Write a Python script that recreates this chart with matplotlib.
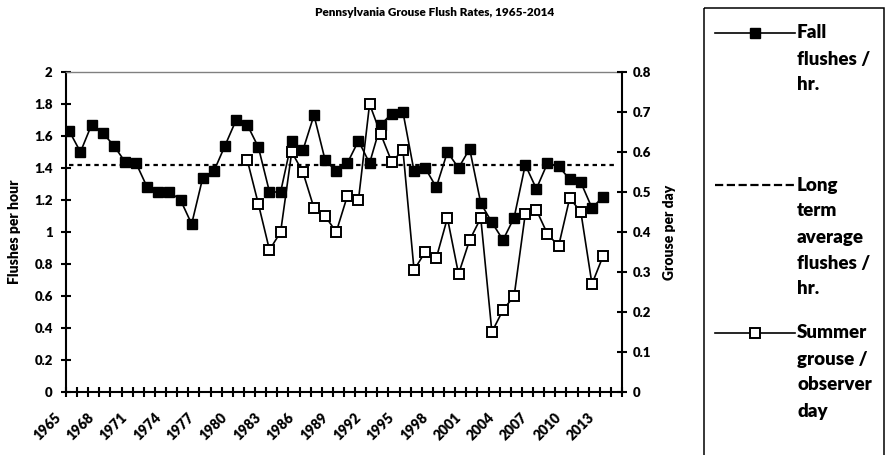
import matplotlib
matplotlib.use('Agg')
import matplotlib.pyplot as plt
import matplotlib.transforms as mtransforms
import numpy as np
from matplotlib.lines import Line2D
from matplotlib.patches import Rectangle
from matplotlib.ticker import FuncFormatter

plt.rcParams['font.family'] = ['Lato', 'DejaVu Sans']
plt.rcParams['font.weight'] = 'bold'

# ---------------- data ----------------
years = list(range(1965, 2015))          # 50 categories on the x axis
fall_start = 1965
fall_flushes = [1.63, 1.50, 1.67, 1.62, 1.54, 1.44, 1.43, 1.28, 1.25, 1.25,
                1.20, 1.05, 1.34, 1.38, 1.54, 1.70, 1.67, 1.53, 1.25, 1.25,
                1.57, 1.51, 1.73, 1.45, 1.38, 1.43, 1.57, 1.43, 1.67, 1.74,
                1.75, 1.38, 1.40, 1.28, 1.50, 1.40, 1.52, 1.18, 1.06, 0.95,
                1.09, 1.42, 1.27, 1.43, 1.41, 1.33, 1.31, 1.15, 1.22]
summer_start = 1981
summer_grouse = [0.58, 0.47, 0.355, 0.40, 0.60, 0.55, 0.46, 0.44, 0.40, 0.49,
                 0.48, 0.72, 0.645, 0.575, 0.605, 0.305, 0.35, 0.335, 0.435, 0.295,
                 0.38, 0.435, 0.15, 0.205, 0.24, 0.445, 0.455, 0.395, 0.365, 0.485,
                 0.45, 0.27, 0.34]
long_term_avg = 1.42
left_ticks = [0, 0.2, 0.4, 0.6, 0.8, 1, 1.2, 1.4, 1.6, 1.8, 2]
right_ticks = [0, 0.1, 0.2, 0.3, 0.4, 0.5, 0.6, 0.7, 0.8]
title = "Pennsylvania Grouse Flush Rates, 1965-2014"
left_label = "Flushes per hour"
right_label = "Grouse per day"
legend_labels = [["Fall", "flushes /", "hr."],
                 ["Long", "term", "average", "flushes /", "hr."],
                 ["Summer", "grouse /", "observer", "day"]]

# ---------------- figure ----------------
W, H = 890, 455
fig = plt.figure(figsize=(W / 100, H / 100), dpi=100)
L, R, T, B = 66, 622, 72, 392
ax = fig.add_axes([L / W, 1 - B / H, (R - L) / W, (B - T) / H])

x_all = np.arange(len(years))
x_fall = np.arange(len(fall_flushes)) + (fall_start - years[0])
x_summer = np.arange(len(summer_grouse)) + (summer_start - years[0])

avg_line, = ax.plot(x_all, [long_term_avg] * len(years), color='black', lw=1.6,
                    ls=(0, (2.0, 1.8)), zorder=2)
fall_line, = ax.plot(x_fall, fall_flushes, color='black', lw=1.2, marker='s',
                     ms=7.6, mfc='black', mec='black', mew=1.0, zorder=3)

ax2 = ax.twinx()
summer_line, = ax2.plot(x_summer, summer_grouse, color='black', lw=1.2, marker='s',
                        ms=7.2, mfc='white', mec='black', mew=1.4, zorder=3)

off = 0.3
ax.set_xlim(-off, len(years) - off)
ax.set_ylim(0, 2)
ax2.set_ylim(0, 0.8)

bounds = np.arange(len(years) + 1) - off
ax.set_xticks(bounds)
xlabels = [str(years[k]) if (k < len(years) - 1 and k % 3 == 0) else '' for k in range(len(bounds))]
ax.set_xticklabels(xlabels, rotation=45, ha='right', fontsize=10, fontweight='heavy')
ax.tick_params(axis='x', direction='inout', length=7.2, width=1.5, pad=10)
shift = mtransforms.ScaledTranslation(-3 / 100, 0, fig.dpi_scale_trans)
for lab in ax.get_xticklabels():
    lab.set_transform(lab.get_transform() + shift)

fmt = FuncFormatter(lambda v, p: f"{v:g}")
ax.set_yticks(left_ticks)
ax.yaxis.set_major_formatter(fmt)
ax.tick_params(axis='y', direction='inout', length=7.2, width=1.5, labelsize=9.5, pad=6)
ax2.set_yticks(right_ticks)
ax2.yaxis.set_major_formatter(fmt)
ax2.tick_params(axis='y', direction='inout', length=7.2, width=1.5, labelsize=9.5, pad=4)
for lab in ax.get_yticklabels() + ax2.get_yticklabels():
    lab.set_fontweight('heavy')

for s in ['left', 'bottom']:
    ax.spines[s].set_linewidth(1.5)
    ax.spines[s].set_color('black')
ax.spines['top'].set_color('#808080')
ax.spines['top'].set_linewidth(1.0)
ax.spines['right'].set_visible(False)
for s in ['left', 'bottom', 'top']:
    ax2.spines[s].set_visible(False)
ax2.spines['right'].set_linewidth(1.5)
ax2.spines['right'].set_color('black')

ax.set_ylabel(left_label, fontsize=10, fontweight='heavy')
ax.yaxis.set_label_coords((21 - L) / (R - L), 0.5)
ax2.set_ylabel(right_label, fontsize=10, fontweight='heavy')
ax2.yaxis.set_label_coords((663 - L) / (R - L), 0.5)

fig.text(435 / W, 1 - 12 / H, title, ha='center', va='center', fontsize=8.5,
         fontweight='heavy')

# ---------------- legend (drawn in pixel coords) ----------------
lax = fig.add_axes([0, 0, 1, 1])
lax.set_xlim(0, W)
lax.set_ylim(H, 0)
lax.axis('off')
lax.add_patch(Rectangle((704, 8), 180, 470, fill=False, ec='black', lw=1.1, clip_on=False))
handles = [fall_line, avg_line, summer_line]
entry_y = [33, 185, 333]
line_gap = 26
for h, labels, y0 in zip(handles, legend_labels, entry_y):
    lax.add_line(Line2D([715, 795], [y0, y0], color=h.get_color(), lw=h.get_linewidth(),
                        ls=h.get_linestyle()))
    if h.get_marker() not in (None, 'None', ''):
        lax.add_line(Line2D([755], [y0], marker='s', ms=7.0, mfc=h.get_markerfacecolor(),
                            mec='black', mew=h.get_markeredgewidth(), ls='none'))
    for k, txt in enumerate(labels):
        lax.text(797, y0 + k * line_gap, txt, ha='left', va='center', fontsize=13.5,
                 fontweight='heavy')

fig.savefig('out.png', dpi=100)
